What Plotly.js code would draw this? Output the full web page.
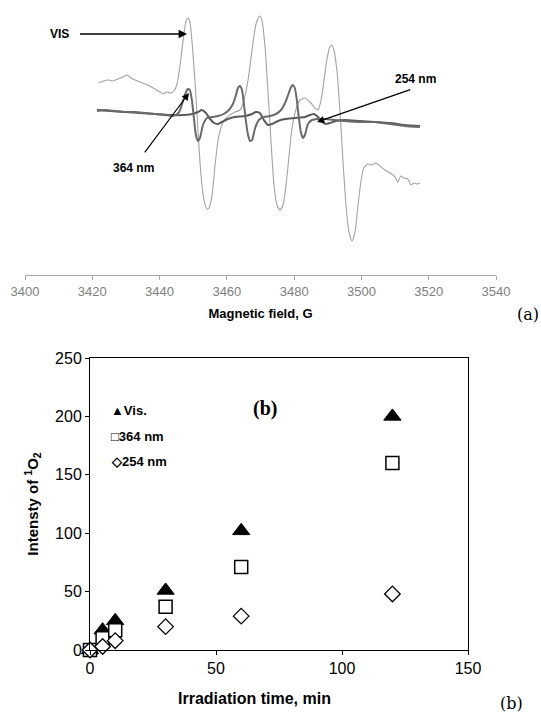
<!DOCTYPE html>
<html><head><meta charset="utf-8">
<script src="https://cdn.plot.ly/plotly-3.0.1.min.js"></script>
<style>html,body{margin:0;padding:0;background:#fff}</style>
</head><body>
<div id="chart" style="width:541px;height:713px"></div>
<script>
// ---- Panel (a): EPR spectra (magnetic field G vs. signal, arbitrary units) ----
const visField = [3421.9,3423.2,3424.7,3426.2,3427.6,3429.1,3430.3,3431.5,3432.7,3434.2,3435.7,3437.1,3438.6,3440.1,3441.0,3442.2,3443.4,3444.3,3445.2,3446.1,3447.0,3447.8,3448.4,3449.0,3449.6,3450.5,3451.4,3452.3,3453.2,3454.1,3454.7,3455.6,3456.5,3457.4,3458.5,3459.7,3460.9,3462.4,3463.9,3465.1,3466.3,3467.5,3468.6,3469.7,3470.4,3471.3,3472.2,3473.1,3474.0,3474.9,3475.8,3476.7,3477.6,3478.5,3479.3,3480.5,3481.7,3483.2,3484.7,3486.2,3487.1,3488.0,3488.9,3489.7,3490.6,3491.1,3491.8,3492.7,3493.6,3494.5,3495.4,3496.3,3497.2,3498.1,3499.0,3499.9,3500.7,3501.9,3503.1,3504.3,3505.5,3507.0,3508.5,3510.0,3510.8,3511.7,3512.6,3513.8,3514.7,3515.6,3516.5,3517.4];
const visSignal = [67,69,70,69,71,73,75,72,70,68,66,64,61,58,56,58,57,59,66,85,110,128,132,128,110,70,20,-25,-50,-59,-58,-45,-15,10,25,32,35,38,40,50,70,100,125,134,130,105,60,10,-35,-55,-60,-55,-35,-5,20,40,50,52,48,42,40,50,70,90,103,105,100,80,40,-10,-55,-82,-91,-82,-55,-30,-18,-14,-15,-13,-16,-20,-23,-27,-32,-26,-28,-29,-35,-33,-34,-33];

const uv364Field = [3421.4,3423.8,3426.7,3429.7,3432.7,3435.7,3438.6,3441.6,3443.7,3444.9,3445.8,3446.7,3447.5,3448.4,3449.0,3449.6,3450.2,3450.8,3451.4,3452.0,3452.9,3454.1,3455.6,3457.4,3459.1,3460.6,3461.8,3462.7,3463.3,3463.9,3464.5,3465.1,3465.7,3466.3,3466.9,3467.5,3468.4,3469.5,3471.0,3472.8,3474.6,3476.1,3477.3,3478.2,3479.1,3479.6,3480.2,3480.8,3481.4,3482.0,3482.6,3483.2,3484.1,3485.3,3487.1,3489.2,3492.1,3495.1,3499.6,3504.0,3508.5,3512.9,3517.4];
const uv364Signal = [39,40,39,38,38,37,36,35,34,35,38,46,55,61,60,50,32,15,9,12,25,32,33,34,36,40,46,55,62,64,60,45,28,15,9,10,22,30,33,34,36,40,47,55,63,65,62,50,32,18,12,15,26,30,31,31,30,29,28,28,26,24,23];

const uv254Field = [3421.4,3425.3,3429.7,3434.2,3438.6,3443.1,3447.5,3449.9,3451.4,3452.6,3453.8,3455.0,3456.2,3457.4,3458.5,3460.3,3462.4,3465.4,3467.5,3468.6,3469.8,3471.0,3472.2,3473.4,3475.2,3477.3,3480.2,3483.2,3484.7,3485.9,3487.1,3488.3,3489.5,3490.6,3492.4,3495.1,3499.6,3504.0,3508.5,3512.9,3517.4];
const uv254Signal = [40,39,38,37,36,35,35,36,38,40,37,31,27,26,28,31,33,34,36,38,37,30,25,26,29,31,32,33,35,36,33,28,26,27,29,30,29,28,27,25,24];

const fieldTicks = [3400,3420,3440,3460,3480,3500,3520,3540];

// ---- Panel (b): intensity of 1O2 vs irradiation time ----
const timeMin = [0,5,10,30,60,120];
const visIntensity = [0,17,25,51,102,200];
const nm364Intensity = [0,10,17,37,71,160];
const nm254Intensity = [0,3,8,20,29,48];

const W = 541, H = 713;
const px = v => v / W;
const py = v => 1 - v / H;

const traces = [
  {x: visField, y: visSignal, type: 'scatter', mode: 'lines', name: 'VIS',
   line: {color: '#a3a3a3', width: 1.1, shape: 'spline', smoothing: 0.6}, xaxis: 'x', yaxis: 'y'},
  {x: uv254Field, y: uv254Signal, type: 'scatter', mode: 'lines', name: '254 nm',
   line: {color: '#5a5a5a', width: 2, shape: 'spline', smoothing: 0.6}, xaxis: 'x', yaxis: 'y'},
  {x: uv364Field, y: uv364Signal, type: 'scatter', mode: 'lines', name: '364 nm',
   line: {color: '#6a6a6a', width: 2, shape: 'spline', smoothing: 0.6}, xaxis: 'x', yaxis: 'y'},
  {x: timeMin, y: visIntensity, type: 'scatter', mode: 'markers', name: 'Vis.', cliponaxis: false,
   marker: {symbol: 'triangle-up', size: 15, color: '#000', line: {color: '#000', width: 1}}, xaxis: 'x2', yaxis: 'y2'},
  {x: timeMin, y: nm364Intensity, type: 'scatter', mode: 'markers', name: '364 nm', cliponaxis: false,
   marker: {symbol: 'square', size: 13, color: '#fff', line: {color: '#000', width: 1.5}}, xaxis: 'x2', yaxis: 'y2'},
  {x: timeMin, y: nm254Intensity, type: 'scatter', mode: 'markers', name: '254 nm', cliponaxis: false,
   marker: {symbol: 'diamond', size: 12, color: '#fff', line: {color: '#000', width: 1.3}}, xaxis: 'x2', yaxis: 'y2'}
];

const ARIAL = 'Arial, Liberation Sans, sans-serif';
const boldA = {family: ARIAL, size: 12, color: '#000'};
const legF = {family: ARIAL, size: 13, color: '#000'};

const layout = {
  width: W, height: H,
  margin: {l: 0, r: 0, t: 0, b: 0},
  paper_bgcolor: '#fff', plot_bgcolor: 'rgba(0,0,0,0)',
  showlegend: false,
  xaxis: {
    domain: [px(25), px(496)], range: [3400, 3540], anchor: 'y',
    tickvals: fieldTicks, ticktext: fieldTicks.map(String),
    showline: true, linecolor: '#a8a8a8', linewidth: 1,
    ticks: 'outside', ticklen: 4, tickcolor: '#a8a8a8',
    showgrid: false, zeroline: false,
    tickfont: {family: ARIAL, size: 13, color: '#808080'},
    title: {text: '<b>Magnetic field, G</b>', standoff: 11,
            font: {family: ARIAL, size: 13, color: '#000'}}
  },
  yaxis: {
    domain: [py(275), 1], range: [-125, 150], anchor: 'x',
    visible: false, showgrid: false, zeroline: false
  },
  xaxis2: {
    domain: [px(90), px(468)], range: [0, 150], anchor: 'y2',
    tickvals: [0, 50, 100, 150],
    showline: true, mirror: true, linecolor: '#000', linewidth: 1,
    ticks: 'outside', ticklen: 4, tickcolor: '#000',
    showgrid: false, zeroline: false,
    tickfont: {family: ARIAL, size: 16, color: '#000'}
  },
  yaxis2: {
    domain: [py(650), py(358)], range: [0, 250], anchor: 'x2',
    tickvals: [0, 50, 100, 150, 200, 250],
    showline: true, mirror: true, linecolor: '#000', linewidth: 1,
    ticks: 'outside', ticklen: 4, tickcolor: '#000',
    showgrid: false, zeroline: false,
    tickfont: {family: ARIAL, size: 16, color: '#000'},
    title: {text: '<b>Intensty of <sup>1</sup>O<sub>2</sub></b>', standoff: 12,
            font: {family: ARIAL, size: 15, color: '#000'}}
  },
  annotations: [
    // panel (a) labels with their arrows
    {xref: 'paper', yref: 'paper', x: px(187), y: py(34), ax: -128, ay: 0, text: '<b>VIS</b>', showarrow: true,
     startstandoff: 10, arrowhead: 2, arrowsize: 1.2, arrowwidth: 1.4, arrowcolor: '#000', font: boldA},
    {xref: 'paper', yref: 'paper', x: px(189), y: py(93), ax: -56, ay: 75, text: '<b>364 nm</b>', showarrow: true,
     startstandoff: 9, arrowhead: 2, arrowsize: 1.2, arrowwidth: 1.2, arrowcolor: '#000', font: boldA},
    {xref: 'paper', yref: 'paper', x: px(317), y: py(122), ax: 98, ay: -34, text: '<b>254 nm</b>', showarrow: true,
     xanchor: 'center', yanchor: 'bottom', startstandoff: 5,
     arrowhead: 2, arrowsize: 1.2, arrowwidth: 1.2, arrowcolor: '#000', font: boldA},
    {xref: 'paper', yref: 'paper', x: px(541), y: py(314), text: '(a)', showarrow: false, xanchor: 'right', yanchor: 'middle',
     font: {family: 'DejaVu Serif, Liberation Serif, serif', size: 16, color: '#000'}},
    // panel (b) legend-like labels
    {xref: 'paper', yref: 'paper', x: px(109), y: py(411), text: '<b>▲Vis.</b>', showarrow: false, xanchor: 'left', yanchor: 'middle', font: legF},
    {xref: 'paper', yref: 'paper', x: px(109), y: py(436), text: '<b>□364 nm</b>', showarrow: false, xanchor: 'left', yanchor: 'middle', font: legF},
    {xref: 'paper', yref: 'paper', x: px(109), y: py(461), text: '<b>◇254 nm</b>', showarrow: false, xanchor: 'left', yanchor: 'middle', font: legF},
    {xref: 'paper', yref: 'paper', x: px(265), y: py(408), text: '<b>(b)</b>', showarrow: false, xanchor: 'center', yanchor: 'middle',
     font: {family: 'Liberation Serif, Times New Roman, serif', size: 20, color: '#000'}},
    {xref: 'paper', yref: 'paper', x: px(254), y: py(698), text: '<b>Irradiation time, min</b>', showarrow: false, xanchor: 'center', yanchor: 'middle',
     font: {family: ARIAL, size: 16, color: '#000'}},
    {xref: 'paper', yref: 'paper', x: px(525), y: py(703), text: '(b)', showarrow: false, xanchor: 'right', yanchor: 'middle',
     font: {family: 'DejaVu Serif, Liberation Serif, serif', size: 16, color: '#000'}}
  ]
};

Plotly.newPlot('chart', traces, layout, {displayModeBar: false, staticPlot: true});
</script>
</body></html>
